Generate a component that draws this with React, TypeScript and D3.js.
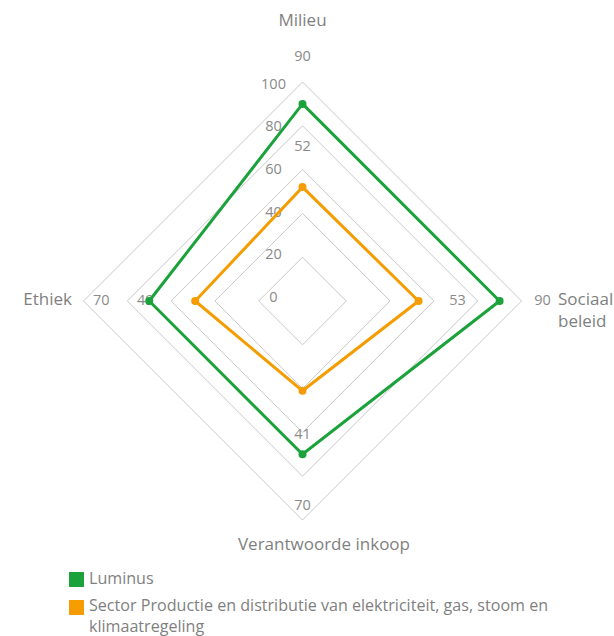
import React from "react";
import * as d3 from "d3";

const axes = ["Milieu", "Sociaal beleid", "Verantwoorde inkoop", "Ethiek"];
const luminus = [90, 90, 70, 70];
const sector = [52, 53, 41, 49];
const ticks = [0, 20, 40, 60, 80, 100];
const seriesNames = ["Luminus", "Sector Productie en distributie van elektriciteit, gas, stoom en klimaatregeling"];
const colors = ["#1ba23b", "#f59c00"];

const W = 614, H = 636;
const cx = 302.5, cy = 301;
const R = 219;
const font = "'Open Sans', sans-serif";

export default function App() {
  const r = d3.scaleLinear().domain([0, 100]).range([0, R]);
  const tickY = d3.scaleLinear().domain([0, 100]).range([cy - 3, cy - 3 - 213]);
  const angle = (i: number) => (i * 2 * Math.PI) / axes.length;
  const pt = (i: number, rad: number): [number, number] => [
    cx + rad * Math.sin(angle(i)),
    cy - rad * Math.cos(angle(i)),
  ];
  const lineGen = d3.line<[number, number]>().curve(d3.curveLinearClosed);
  const series = [luminus, sector];
  const labelOff = [
    [47, 43, 52, 48],
    [40, 39, 44, 50],
  ];
  const order = [1, 0];

  return (
    <svg width={W} height={H} style={{ position: "absolute", left: 0, top: 0 }}>
      <g fill="none" stroke="#c8c8c8" strokeWidth={1}>
        {ticks.filter((t) => t > 0).map((t) => (
          <path key={t} d={lineGen(axes.map((_, i) => pt(i, r(t))))!} />
        ))}
      </g>
      <g fontFamily={font} fontSize={14.5} fill="#8a8a8a" textAnchor="middle">
        {ticks.map((t) => (
          <text key={t} x={cx - 29} y={tickY(t)} dominantBaseline="middle">
            {t}
          </text>
        ))}
      </g>
      {order.map((k) => {
        const s = series[k];
        return (
          <g key={k}>
            {s.map((v, i) => {
              const [x, y] = pt(i, r(v) + labelOff[k][i]);
              return (
                <text
                  key={"l" + i}
                  x={x}
                  y={y}
                  fontFamily={font}
                  fontSize={14.5}
                  fill="#8a8a8a"
                  textAnchor="middle"
                  dominantBaseline="middle"
                >
                  {v}
                </text>
              );
            })}
            <path
              d={lineGen(s.map((v, i) => pt(i, r(v))))!}
              fill="none"
              stroke={colors[k]}
              strokeWidth={3}
              strokeLinejoin="miter"
            />
            {s.map((v, i) => {
              const [x, y] = pt(i, r(v));
              return <circle key={i} cx={x} cy={y} r={4} fill={colors[k]} />;
            })}
          </g>
        );
      })}
      <g fontFamily={font} fontSize={17} fill="#7f7f7f">
        <text x={cx} y={21} textAnchor="middle" dominantBaseline="middle">{axes[0]}</text>
        <text x={558} y={300} dominantBaseline="middle">{axes[1].split(" ")[0]}</text>
        <text x={558} y={322} dominantBaseline="middle">{axes[1].split(" ")[1]}</text>
        <text x={324} y={545} textAnchor="middle" dominantBaseline="middle">{axes[2]}</text>
        <text x={72} y={300} textAnchor="end" dominantBaseline="middle">{axes[3]}</text>
      </g>
      <g fontFamily={font} fontSize={16.1} fill="#7f7f7f">
        <rect x={69} y={572} width={15} height={15} fill={colors[0]} />
        <text x={89} y={580} dominantBaseline="middle">{seriesNames[0]}</text>
        <rect x={69} y={600} width={15} height={15} fill={colors[1]} />
        <text x={89} y={607} dominantBaseline="middle">
          {seriesNames[1].split(" klimaatregeling")[0]}
        </text>
        <text x={89} y={628} dominantBaseline="middle">klimaatregeling</text>
      </g>
    </svg>
  );
}
